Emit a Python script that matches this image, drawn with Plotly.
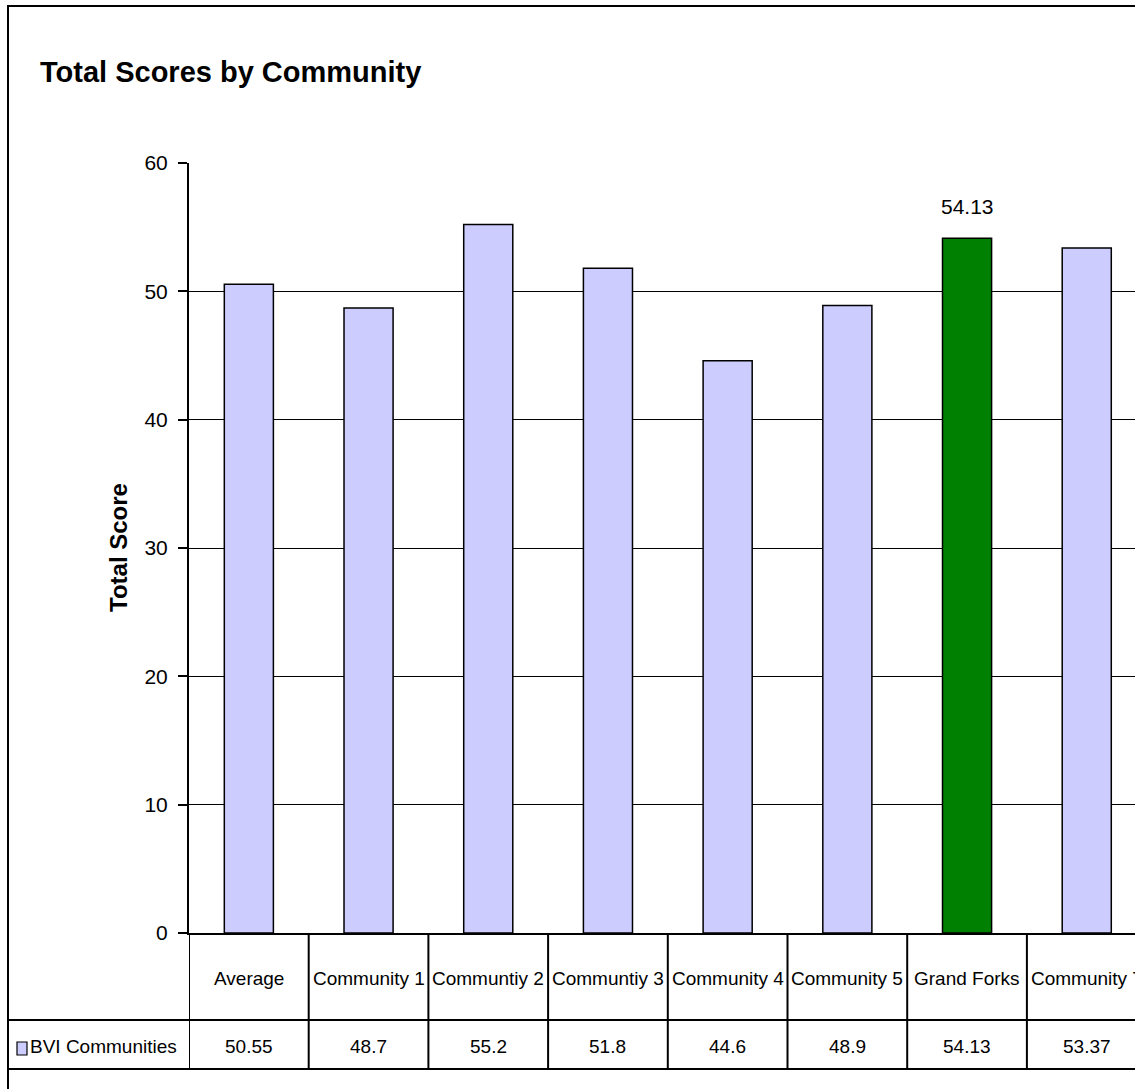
import plotly.graph_objects as go

categories = ["Average", "Community 1", "Communtiy 2", "Communtiy 3", "Community 4",
              "Community 5", "Grand Forks", "Community 7"]
values = [50.55, 48.7, 55.2, 51.8, 44.6, 48.9, 54.13, 53.37]
value_labels = ["50.55", "48.7", "55.2", "51.8", "44.6", "48.9", "54.13", "53.37"]
highlight = "Grand Forks"
series_name = "BVI Communities"
y_ticks = [0, 10, 20, 30, 40, 50, 60]

FONT = "Liberation Sans Narrow, Arial Narrow, Liberation Sans, Arial, sans-serif"
W, H = 1135, 1089
L, T, B = 189, 163, 933          # plot area pixels
PW = W - L
PH = B - T
SLOT = 119.7                     # px per category

def px_x(p):  # pixel x -> paper
    return (p - L) / PW

def px_y(p):  # pixel y -> paper
    return (B - p) / PH

light = "#CCCCFF"
green = "#008000"
colors = [green if c == highlight else light for c in categories]
idx = list(range(len(categories)))

fig = go.Figure()
fig.add_trace(go.Bar(
    x=idx, y=values, width=0.41,
    marker=dict(color=colors, line=dict(color="black", width=1.5)),
    showlegend=False, hoverinfo="skip",
))

xmax = -0.5 + PW / SLOT
shapes = []
# vertical table lines at category boundaries
for k in range(len(categories) + 1):
    shapes.append(dict(type="line", xref="x", yref="paper",
                       x0=k - 0.5, x1=k - 0.5, y0=px_y(1069), y1=0,
                       line=dict(color="black", width=2)))
# horizontal table lines
for yy in (1020, 1069):
    shapes.append(dict(type="line", xref="paper", yref="paper",
                       x0=px_x(8), x1=1.05, y0=px_y(yy), y1=px_y(yy),
                       line=dict(color="black", width=2)))
# outer chart border
shapes.append(dict(type="rect", xref="paper", yref="paper",
                   x0=px_x(8), x1=1.05, y0=px_y(1110), y1=px_y(6),
                   line=dict(color="black", width=2), fillcolor="rgba(0,0,0,0)"))
# legend swatch
shapes.append(dict(type="rect", xref="paper", yref="paper",
                   x0=px_x(17), x1=px_x(27), y0=px_y(1055), y1=px_y(1042),
                   line=dict(color="black", width=1.2), fillcolor=light))

annotations = []
for i, (c, v) in enumerate(zip(categories, value_labels)):
    annotations.append(dict(x=i, y=px_y(979), xref="x", yref="paper", text=c,
                            showarrow=False, xanchor="center", yanchor="middle",
                            font=dict(family=FONT, size=19, color="black")))
    annotations.append(dict(x=i, y=px_y(1046), xref="x", yref="paper", text=v,
                            showarrow=False, xanchor="center", yanchor="middle",
                            font=dict(family=FONT, size=19, color="black")))
annotations.append(dict(x=px_x(28), y=px_y(1046), xref="paper", yref="paper",
                        text=series_name, showarrow=False, xanchor="left", yanchor="middle",
                        font=dict(family=FONT, size=19, color="black")))
hi = categories.index(highlight)
annotations.append(dict(x=hi, y=values[hi], xref="x", yref="y", text=value_labels[hi],
                        showarrow=False, xanchor="center", yanchor="middle", yshift=32,
                        font=dict(family=FONT, size=21, color="black")))
annotations.append(dict(x=px_x(118), y=0.5, xref="paper", yref="paper",
                        text="<b>Total Score</b>", textangle=-90, showarrow=False,
                        xanchor="center", yanchor="middle",
                        font=dict(family="Liberation Sans, Arial, sans-serif", size=24, color="black")))

fig.update_layout(
    width=W, height=H,
    margin=dict(l=L, r=0, t=T, b=H - B, pad=0),
    paper_bgcolor="white", plot_bgcolor="white",
    title=dict(text="<b>Total Scores by Community</b>", x=40 / W, xanchor="left",
               y=1 - 72 / H, yanchor="middle",
               font=dict(family=FONT, size=29, color="black")),
    xaxis=dict(range=[-0.5, xmax], showticklabels=False, ticks="", showgrid=False,
               zeroline=False, showline=True, linecolor="black", linewidth=2,
               fixedrange=True),
    yaxis=dict(range=[0, 60], tickvals=y_ticks, ticks="outside", ticklen=9,
               tickwidth=1.5, tickcolor="black", showgrid=True, gridcolor="black",
               gridwidth=1, zeroline=False, showline=True, linecolor="black",
               linewidth=2, ticklabelstandoff=6,
               tickfont=dict(family=FONT, size=21, color="black")),
    shapes=shapes, annotations=annotations,
    showlegend=False,
)

fig.write_html("out.html")
